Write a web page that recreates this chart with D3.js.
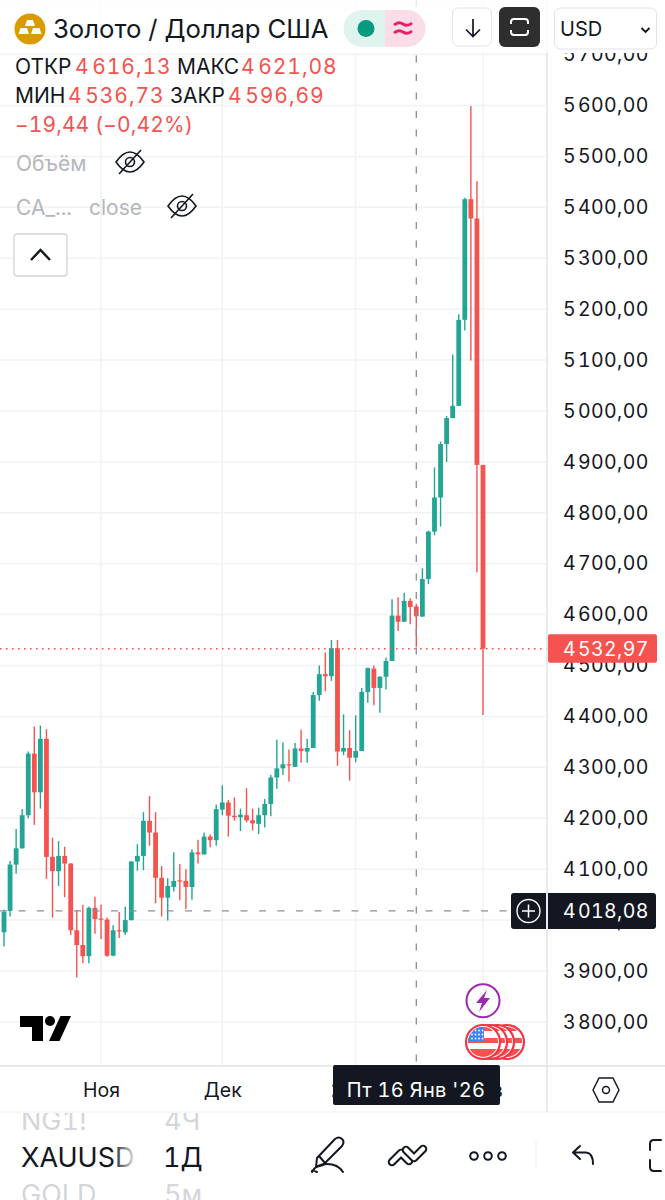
<!DOCTYPE html>
<html>
<head>
<meta charset="utf-8">
<script src="https://cdn.jsdelivr.net/npm/d3@7/dist/d3.min.js"></script>
<style>
html,body{margin:0;padding:0;background:#fff;}
svg{display:block;}
text{font-family:Inter,"Noto Sans",sans-serif;font-variant-numeric:tabular-nums;}
</style>
</head>
<body>
<div id="display"></div>
<script>
// daily candles
var opens=[3976,4018,4109,4141,4206,4327,4251,4356,4124,4096,4126,4111,3980,3951,3929,4024,4003,4001,3930,3980,
3976,4000,4115,4126,4195,4172,4083,4044,4065,4078,4077,4065,4133,4129,4164,4157,4217,4231,4205,4202,
4206,4196,4189,4206,4228,4280,4298,4306,4301,4337,4331,4338,4442,4483,4479,4534,4331,4338,4319,4332,
4448,4494,4456,4478,4509,4598,4586,4627,4616.13,4596,4670,4763,4830,4935,4986,5010,5179,5416,5378,4894];
var highs=[4021,4116,4179,4218,4331,4380,4382,4375,4162,4155,4144,4112,4020,4030,4026,4046,4030,4005,3990,4016,
4026,4116,4149,4212,4244,4212,4106,4082,4133,4110,4100,4139,4158,4172,4168,4227,4265,4236,4241,4219,
4259,4219,4221,4238,4285,4354,4349,4335,4348,4374,4356,4448,4500,4526,4550,4550,4404,4373,4402,4456,
4496,4500,4479,4516,4630,4634,4643,4632,4621.08,4691,4765,4889,4940,4990,5111,5190,5419,5599,5451,4894];
var lows=[3948,4007,4091,4140,4200,4187,4219,4081,4005,4067,4045,3971,3887,3915,3915,3973,3963,3928,3929,3965,
3971,3999,4097,4098,4146,4033,4007,3999,4056,4039,4022,4040,4111,4129,4143,4146,4206,4164,4195,4175,
4192,4176,4169,4182,4204,4258,4285,4272,4301,4309,4309,4338,4431,4449,4470,4303,4324,4274,4310,4332,
4427,4422,4407,4453,4509,4568,4586,4581,4536.73,4596,4660,4756,4773,4900,4986,5010,5158,5099,4683,4403];
var closes=[4016,4109,4141,4206,4327,4251,4356,4124,4096,4126,4111,3980,3951,3929,4024,4002,4001,3930,3980,3979,
4000,4115,4126,4195,4172,4083,4044,4067,4077,4076,4065,4133,4129,4164,4157,4218,4231,4205,4202,4207,
4196,4190,4206,4228,4280,4298,4306,4304,4337,4332,4338,4442,4483,4479,4534,4331,4338,4319,4332,4448,
4495,4456,4478,4509,4598,4586,4627,4615,4596.69,4670,4763,4830,4935,4986,5010,5179,5416,5378,4894,4532.97];

var gridPrices=[3800,3900,4000,4100,4200,4300,4400,4500,4600,4700,4800,4900,5000,5100,5200,5300,5400,5500,5600,5700,5800];
var priceTicks=[3800,3900,4000,4100,4200,4300,4400,4500,4600,4700,4800,4900,5000,5100,5200,5300,5400,5500,5600,5700];
var timeTickIdx=[16,36,58,79];
var timeTickLabels=["Ноя","Дек","2026","Фев"];
var lastPrice=4532.97, crossPrice=4018.08, crossIdx=68;

var UP="#22a594", DOWN="#f45350", GRID="#f1f2f5", LINE="#e0e3eb", INK="#131722", FADED="#b4b6bd";

var svg=d3.select("#display").append("svg").attr("width",665).attr("height",1200);

var x=d3.scaleLinear().domain([0,79]).range([4,483]),
    y=d3.scaleLinear().domain([3800,5600]).range([1021.9,105.5]);

var ru=d3.formatLocale({decimal:",",thousands:"\u200a",grouping:[3],currency:["",""]});
var fmt=ru.format(",.2f");

// grid
svg.append("g").selectAll("line").data(gridPrices).enter().append("line")
  .attr("x1",0).attr("x2",547).attr("y1",y).attr("y2",y)
  .attr("stroke",GRID).attr("stroke-width",1.5);
svg.append("g").selectAll("line").data(timeTickIdx).enter().append("line")
  .attr("x1",x).attr("x2",x).attr("y1",0).attr("y2",1066)
  .attr("stroke",GRID).attr("stroke-width",1.5);

// candles
var candles=svg.append("g").selectAll("g").data(d3.range(opens.length)).enter().append("g");
function col(i){ return closes[i]>opens[i] ? UP : DOWN; }
candles.append("line")
  .attr("x1",x).attr("x2",x)
  .attr("y1",function(i){return y(highs[i]);})
  .attr("y2",function(i){return y(lows[i]);})
  .attr("stroke",col).attr("stroke-width",1.4);
candles.append("rect")
  .attr("x",function(i){return x(i)-2.4;})
  .attr("width",4.8)
  .attr("y",function(i){return y(Math.max(opens[i],closes[i]));})
  .attr("height",function(i){return Math.max(1.2,Math.abs(y(opens[i])-y(closes[i])));})
  .attr("fill",col);

// last price line and crosshair
svg.append("line").attr("x1",0).attr("x2",547).attr("y1",y(lastPrice)).attr("y2",y(lastPrice))
  .attr("stroke",DOWN).attr("stroke-width",1.3).attr("stroke-dasharray","1.6,4.4");
svg.append("line").attr("x1",x(crossIdx)).attr("x2",x(crossIdx)).attr("y1",0).attr("y2",1066)
  .attr("stroke","#8b8e99").attr("stroke-width",1.3).attr("stroke-dasharray","7,11.5");
svg.append("line").attr("x1",0).attr("x2",512).attr("y1",y(crossPrice)).attr("y2",y(crossPrice))
  .attr("stroke","#8b8e99").attr("stroke-width",1.3).attr("stroke-dasharray","7,11.5");

// price axis
svg.append("rect").attr("x",548).attr("y",0).attr("width",117).attr("height",1066).attr("fill","#fff");
var yAxis=svg.append("g").attr("transform","translate(547,0)")
  .call(d3.axisRight(y).tickValues(priceTicks).tickFormat(fmt).tickSize(0).tickPadding(16));
yAxis.select(".domain").remove();
yAxis.selectAll("text").attr("font-size",19.5).attr("fill",INK).attr("letter-spacing",0.35)
  .style("font-family","Inter,sans-serif");
svg.append("line").attr("x1",547).attr("x2",547).attr("y1",0).attr("y2",1112).attr("stroke",LINE).attr("stroke-width",1.5);

// last price label
svg.append("rect").attr("x",548).attr("y",y(lastPrice)-14.5).attr("width",109).attr("height",28.5).attr("rx",2).attr("fill",DOWN);
svg.append("text").attr("x",563).attr("y",y(lastPrice)+7).attr("font-size",19.5).attr("letter-spacing",0.35)
  .attr("fill","#fff").text(fmt(lastPrice));

// crosshair label
svg.append("path").attr("d","M514 893H546V929H514a3 3 0 0 1-3-3V896a3 3 0 0 1 3-3Z").attr("fill",INK);
svg.append("path").attr("d","M548 893H653a3 3 0 0 1 3 3V926a3 3 0 0 1-3 3H548Z").attr("fill",INK);
svg.append("circle").attr("cx",528.5).attr("cy",911).attr("r",11.5).attr("fill","none").attr("stroke","#fff").attr("stroke-width",1.4);
svg.append("path").attr("d","M522 911H535M528.5 904.5V917.5").attr("stroke","#fff").attr("stroke-width",1.5);
svg.append("text").attr("x",563).attr("y",918).attr("font-size",19.5).attr("letter-spacing",0.35)
  .attr("fill","#fff").text(fmt(crossPrice));

// event markers
svg.append("circle").attr("cx",483).attr("cy",1000.7).attr("r",16.5).attr("fill","#fff").attr("stroke","#9c27b0").attr("stroke-width",2);
svg.append("path").attr("d","M487 990L476 1003H482L479 1012L490 998H484Z").attr("fill","#9c27b0");
[507,497,490,483].forEach(function(cx,k){
  var id="fl"+k;
  svg.append("clipPath").attr("id",id).append("circle").attr("cx",cx).attr("cy",1042).attr("r",15);
  var g=svg.append("g");
  g.append("circle").attr("cx",cx).attr("cy",1042).attr("r",17).attr("fill","#fff").attr("stroke","#f23645").attr("stroke-width",2.2);
  var f=g.append("g").attr("clip-path","url(#"+id+")");
  f.append("rect").attr("x",cx-15).attr("y",1038).attr("width",30).attr("height",5).attr("fill",DOWN);
  f.append("rect").attr("x",cx-15).attr("y",1049).attr("width",30).attr("height",9).attr("fill",DOWN);
  f.append("rect").attr("x",cx-15).attr("y",1027).attr("width",30).attr("height",4).attr("fill",DOWN);
  if(k==3){
    f.append("rect").attr("x",cx-15).attr("y",1027).attr("width",16).attr("height",14).attr("fill","#3d85f0");
    d3.range(3).forEach(function(r){ d3.range(4).forEach(function(c){
      f.append("circle").attr("cx",cx-11+c*3.5).attr("cy",1030.5+r*4).attr("r",0.9).attr("fill","#fff");
    });});
  }
});

// tradingview logo
svg.append("path").attr("d","M20 1016H43V1041H32V1027H20ZM49 1041L60.5 1016H71L59.5 1041Z").attr("fill","#000");
svg.append("circle").attr("cx",50).attr("cy",1021).attr("r",5).attr("fill","#000");

// time axis
svg.append("rect").attr("x",0).attr("y",1066).attr("width",665).attr("height",46).attr("fill","#fff");
svg.append("line").attr("x1",0).attr("x2",665).attr("y1",1066).attr("y2",1066).attr("stroke",LINE).attr("stroke-width",1.5);
svg.append("line").attr("x1",0).attr("x2",665).attr("y1",1112).attr("y2",1112).attr("stroke","#eef0f3").attr("stroke-width",1);
svg.append("line").attr("x1",547).attr("x2",547).attr("y1",1066).attr("y2",1112).attr("stroke",LINE).attr("stroke-width",1.5);
var xAxis=svg.append("g").attr("transform","translate(0,1066)")
  .call(d3.axisBottom(x).tickValues(timeTickIdx)
    .tickFormat(function(d,i){return timeTickLabels[i];}).tickSize(0).tickPadding(17));
xAxis.select(".domain").remove();
xAxis.selectAll("text").attr("font-size",19.5).attr("fill",INK)
  .style("font-family","Inter,sans-serif")
  .attr("font-weight",function(d,i){return timeTickLabels[i]=="2026"?700:400;});

// crosshair date
svg.append("rect").attr("x",333).attr("y",1065).attr("width",167).attr("height",40).attr("rx",2).attr("fill",INK);
svg.append("text").attr("x",416).attr("y",1097).attr("text-anchor","middle").attr("font-size",20).attr("letter-spacing",0.3)
  .attr("fill","#fff").text("Пт 16 Янв '26");

// settings hexagon
svg.append("path").attr("d","M599 1078H613L619 1090L613 1102H599L593 1090Z").attr("fill","none").attr("stroke",INK).attr("stroke-width",1.5).attr("stroke-linejoin","round");
svg.append("circle").attr("cx",606).attr("cy",1090).attr("r",3.5).attr("fill","none").attr("stroke",INK).attr("stroke-width",1.5);

// header
svg.append("rect").attr("x",0).attr("y",0).attr("width",548).attr("height",53).attr("fill","#fff").attr("opacity",0.8);
svg.append("rect").attr("x",548).attr("y",0).attr("width",117).attr("height",53).attr("fill","#fff");
svg.append("circle").attr("cx",30).attr("cy",29).attr("r",15.5).attr("fill","#db9a00");
svg.append("path").attr("d","M27 20H33L35 26H25ZM20.5 28H27L29 34H18.5ZM33 28H39.5L41.5 34H31Z").attr("fill","#fff");
svg.append("text").attr("x",53).attr("y",38).attr("font-size",25.7).attr("fill",INK).text("Золото / Доллар США");

svg.append("path").attr("d","M385 10H362a18.5 18.5 0 0 0 0 37H385Z").attr("fill","#dff3ef");
svg.append("path").attr("d","M385 10H407a18.5 18.5 0 0 1 0 37H385Z").attr("fill","#fbdde7");
svg.append("circle").attr("cx",366).attr("cy",28.5).attr("r",8.5).attr("fill","#089981");
svg.append("path").attr("d","M394 25q4.5-4 9-1t9-1M394 33q4.5-4 9-1t9-1").attr("fill","none").attr("stroke","#e91e63").attr("stroke-width",2.8);

svg.append("rect").attr("x",452.5).attr("y",8).attr("width",39).attr("height",38).attr("rx",6).attr("fill","#fff").attr("stroke",LINE);
svg.append("path").attr("d","M473 19V36M466 29.5L473 36.5L480 29.5").attr("fill","none").attr("stroke",INK).attr("stroke-width",1.7);
svg.append("rect").attr("x",499).attr("y",7).attr("width",41).attr("height",40).attr("rx",6).attr("fill","#2e2e2e");
svg.append("path").attr("d","M511 24V22a3 3 0 0 1 3-3H525a3 3 0 0 1 3 3V24M511 30V32a3 3 0 0 0 3 3H525a3 3 0 0 0 3-3V30").attr("fill","none").attr("stroke","#fff").attr("stroke-width",2);
svg.append("rect").attr("x",554.5).attr("y",8).attr("width",102).attr("height",41).attr("rx",6).attr("fill","#fff").attr("stroke",LINE);
svg.append("text").attr("x",560).attr("y",36).attr("font-size",20).attr("fill",INK).text("USD");
svg.append("path").attr("d","M641.5 28L645.5 32L649.5 28").attr("fill","none").attr("stroke",INK).attr("stroke-width",1.8);

// ohlc legend
function label(tx,ty,str,fill,spacing){
  return svg.append("text").attr("x",tx).attr("y",ty).attr("font-size",21).attr("fill",fill)
    .attr("letter-spacing",spacing||0).text(str);
}
label(15,74,"ОТКР",INK);
label(75,74,fmt(opens[crossIdx]),DOWN,0.9);
label(177,74,"МАКС",INK);
label(241,74,fmt(highs[crossIdx]),DOWN,0.9);
label(15,103,"МИН",INK);
label(68,103,fmt(lows[crossIdx]),DOWN,0.9);
label(170,103,"ЗАКР",INK);
label(228,103,fmt(closes[crossIdx]),DOWN,0.9);
label(15,132,"−19,44 (−0,42%)",DOWN,0.1);
label(16,171,"Объём",FADED);
label(16,215,"CA_...",FADED);
label(89,215,"close",FADED);

function eyeOff(cx,cy){
  var g=svg.append("g").attr("transform","translate("+cx+","+cy+")").attr("fill","none").attr("stroke",INK).attr("stroke-width",1.6);
  g.append("path").attr("d","M-14 0Q-7 -10 0 -10Q7 -10 14 0Q7 10 0 10Q-7 10 -14 0Z");
  g.append("circle").attr("r",4.5);
  g.append("path").attr("d","M-11 12L11 -12");
}
eyeOff(130,162);
eyeOff(182,206);

svg.append("rect").attr("x",14).attr("y",234).attr("width",53).attr("height",42).attr("rx",3).attr("fill","#fff").attr("stroke","#d1d4dc").attr("stroke-width",1.3);
svg.append("path").attr("d","M31 260L40.5 250L50 260").attr("fill","none").attr("stroke",INK).attr("stroke-width",2.4);

// bottom toolbar
var defs=svg.append("defs");
var fade=defs.append("linearGradient").attr("id","fade");
fade.append("stop").attr("offset",0).attr("stop-color","#fff").attr("stop-opacity",0);
fade.append("stop").attr("offset",1).attr("stop-color","#fff");
var wheel=svg.append("clipPath").attr("id","wheel");
wheel.append("rect").attr("x",0).attr("y",1113).attr("width",665).attr("height",87);
var tb=svg.append("g").attr("clip-path","url(#wheel)");
[["NG1!",21,1130,"#d5d6db"],["4Ч",164,1130,"#d5d6db"],["XAUUSD",21,1167,"#131722"],["1Д",163,1167,"#131722"],["GOLD",21,1204,"#d5d6db"],["5м",164,1204,"#d5d6db"]].forEach(function(t){
  tb.append("text").attr("x",t[1]).attr("y",t[2]).attr("font-size",27).attr("fill",t[3]).text(t[0]);
});
svg.append("rect").attr("x",112).attr("y",1115).attr("width",26).attr("height",85).attr("fill","url(#fade)");

var icons=svg.append("g").attr("fill","none").attr("stroke",INK).attr("stroke-width",2).attr("stroke-linejoin","round").attr("stroke-linecap","round");
icons.append("path").attr("d","M317 1158L335 1139Q339 1136 342 1139Q345 1142 342 1146L323 1165L316 1167ZM319 1156L325 1163");
icons.append("path").attr("d","M317 1172Q311 1169 312 1172Q316 1164 327 1164Q338 1164 343 1172");
// interlocked chevrons, drawn as a thick dark stroke with a white core
svg.append("path").attr("d","M392 1162L401 1153L409 1161").attr("fill","none").attr("stroke",INK).attr("stroke-width",8.5).attr("stroke-linejoin","round").attr("stroke-linecap","round");
svg.append("path").attr("d","M392 1162L401 1153L409 1161").attr("fill","none").attr("stroke","#fff").attr("stroke-width",4.5).attr("stroke-linejoin","round").attr("stroke-linecap","round");
svg.append("path").attr("d","M406 1150L414 1158L423 1149").attr("fill","none").attr("stroke",INK).attr("stroke-width",8.5).attr("stroke-linejoin","round").attr("stroke-linecap","round");
svg.append("path").attr("d","M406 1150L414 1158L423 1149").attr("fill","none").attr("stroke","#fff").attr("stroke-width",4.5).attr("stroke-linejoin","round").attr("stroke-linecap","round");
[474,488,502].forEach(function(cx){ icons.append("circle").attr("cx",cx).attr("cy",1156).attr("r",3.8); });
svg.append("line").attr("x1",536).attr("x2",536).attr("y1",1140).attr("y2",1170).attr("stroke","#f0f1f3").attr("stroke-width",1);
icons.append("path").attr("d","M580 1146L573 1152.5L580 1159M573 1152.5H586Q593 1153 593 1164");
icons.append("path").attr("d","M661 1140H654Q650 1140 650 1144V1150M650 1160V1167Q650 1171 654 1171H661");
</script>
</body>
</html>
